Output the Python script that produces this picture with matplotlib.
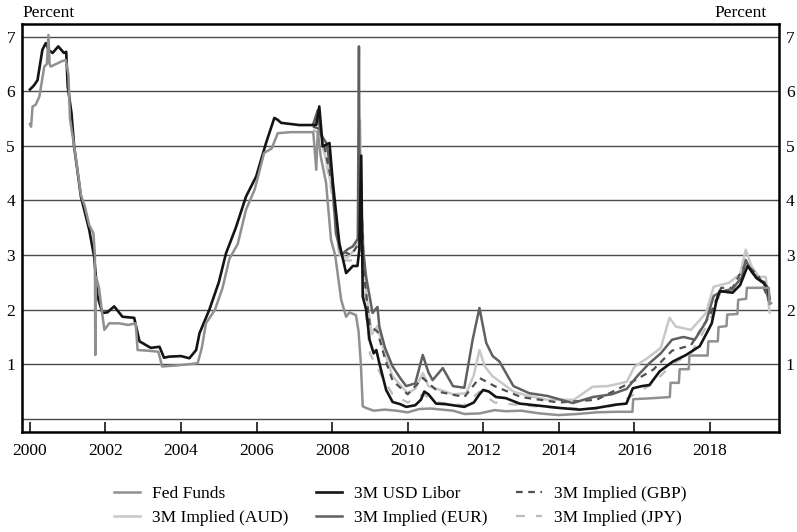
import numpy as np
import matplotlib
matplotlib.use("Agg")
import matplotlib.pyplot as plt

plt.rcParams['font.family'] = ['Liberation Serif', 'DejaVu Serif']

# values (decimal years, percent)
fed_t = [2000.00, 2000.03, 2000.07, 2000.15, 2000.25, 2000.38, 2000.45, 2000.49, 2000.52, 2000.55,
         2000.70, 2000.85, 2000.95, 2001.02, 2001.06, 2001.17, 2001.25, 2001.35, 2001.45, 2001.57,
         2001.68, 2001.72, 2001.73, 2001.75, 2001.83, 2001.90, 2001.97, 2002.10, 2002.36, 2002.60,
         2002.80, 2002.85, 2003.10, 2003.40, 2003.50, 2003.90, 2004.20, 2004.44, 2004.55, 2004.66,
         2004.90, 2005.10, 2005.28, 2005.50, 2005.72, 2005.95, 2006.20, 2006.40, 2006.56, 2006.90,
         2007.20, 2007.50, 2007.58, 2007.62, 2007.70, 2007.84, 2007.97, 2008.08, 2008.24, 2008.37,
         2008.46, 2008.63, 2008.70, 2008.76, 2008.81, 2008.90, 2009.10, 2009.40, 2009.70, 2010.00,
         2010.30, 2010.60, 2010.90, 2011.20, 2011.50, 2011.90, 2012.30, 2012.60, 2013.00, 2013.50,
         2014.00, 2014.50, 2015.00, 2015.50, 2015.95, 2015.97, 2016.50, 2016.94, 2016.96, 2017.18,
         2017.20, 2017.44, 2017.46, 2017.94, 2017.96, 2018.21, 2018.23, 2018.44, 2018.46, 2018.73,
         2018.75, 2018.96, 2018.98, 2019.30, 2019.56, 2019.58, 2019.62]
fed_v = [5.40, 5.35, 5.72, 5.75, 5.90, 6.45, 6.50, 7.03, 6.50, 6.45,
         6.50, 6.55, 6.57, 6.30, 5.50, 5.00, 4.60, 4.10, 3.90, 3.55,
         3.40, 3.00, 1.17, 2.60, 2.40, 2.00, 1.63, 1.75, 1.75, 1.72,
         1.75, 1.26, 1.25, 1.23, 0.96, 0.98, 1.00, 1.02, 1.30, 1.75,
         2.00, 2.40, 2.93, 3.20, 3.83, 4.20, 4.87, 4.95, 5.23, 5.25,
         5.25, 5.25, 4.56, 5.27, 4.80, 4.32, 3.28, 3.00, 2.18, 1.87,
         1.95, 1.90, 1.60, 1.02, 0.23, 0.20, 0.15, 0.17, 0.15, 0.12,
         0.18, 0.19, 0.17, 0.15, 0.09, 0.10, 0.16, 0.14, 0.15, 0.10,
         0.07, 0.09, 0.12, 0.13, 0.13, 0.36, 0.38, 0.40, 0.66, 0.66,
         0.91, 0.91, 1.16, 1.16, 1.42, 1.42, 1.68, 1.70, 1.91, 1.92,
         2.18, 2.20, 2.40, 2.40, 2.40, 2.10, 2.12]

libor_t = [2000.00, 2000.10, 2000.20, 2000.33, 2000.42, 2000.50, 2000.60, 2000.75, 2000.90, 2000.96,
           2001.00, 2001.10, 2001.17, 2001.35, 2001.57, 2001.70, 2001.79, 2001.92, 2002.05, 2002.23,
           2002.45, 2002.76, 2002.90, 2003.20, 2003.43, 2003.55, 2003.69, 2004.00, 2004.22, 2004.40,
           2004.49, 2004.75, 2005.00, 2005.19, 2005.45, 2005.72, 2005.99, 2006.25, 2006.47, 2006.55,
           2006.65, 2007.13, 2007.58, 2007.66, 2007.75, 2007.93, 2008.02, 2008.19, 2008.37, 2008.55,
           2008.67, 2008.72, 2008.77, 2008.81, 2008.90, 2008.99, 2009.10, 2009.17, 2009.25, 2009.43,
           2009.60, 2009.80, 2009.96, 2010.20, 2010.35, 2010.44, 2010.55, 2010.75, 2011.00, 2011.50,
           2011.75, 2011.90, 2012.00, 2012.15, 2012.34, 2012.60, 2012.96, 2013.50, 2014.02, 2014.55,
           2015.00, 2015.50, 2015.79, 2015.96, 2016.20, 2016.40, 2016.67, 2017.02, 2017.37, 2017.73,
           2017.90, 2018.05, 2018.17, 2018.26, 2018.60, 2018.80, 2019.00, 2019.23, 2019.40, 2019.53,
           2019.58]
libor_v = [6.03, 6.10, 6.20, 6.76, 6.88, 6.75, 6.70, 6.82, 6.70, 6.72,
           6.09, 5.60, 4.99, 4.07, 3.46, 2.97, 2.24, 1.94, 1.95, 2.06,
           1.87, 1.85, 1.42, 1.30, 1.32, 1.12, 1.14, 1.15, 1.11, 1.26,
           1.57, 2.00, 2.50, 3.03, 3.50, 4.07, 4.44, 5.05, 5.51, 5.48,
           5.42, 5.38, 5.38, 5.72, 4.99, 5.05, 4.32, 3.22, 2.67, 2.80,
           2.80, 3.10, 4.82, 2.24, 2.00, 1.45, 1.20, 1.26, 1.02, 0.53,
           0.31, 0.27, 0.22, 0.25, 0.35, 0.50, 0.45, 0.28, 0.27, 0.22,
           0.30, 0.45, 0.53, 0.50, 0.40, 0.38, 0.28, 0.24, 0.20, 0.17,
           0.20, 0.26, 0.28, 0.56, 0.60, 0.62, 0.87, 1.05, 1.17, 1.33,
           1.55, 1.75, 2.15, 2.34, 2.31, 2.45, 2.80, 2.58, 2.50, 2.40,
           2.20]

eur_t = [2007.50, 2007.62, 2007.70, 2007.85, 2008.00, 2008.10, 2008.25, 2008.40, 2008.55, 2008.68,
         2008.71, 2008.73, 2008.76, 2008.80, 2008.90, 2009.07, 2009.20, 2009.25, 2009.40, 2009.60,
         2009.80, 2009.96, 2010.20, 2010.40, 2010.55, 2010.66, 2010.93, 2011.20, 2011.50, 2011.72,
         2011.90, 2012.08, 2012.25, 2012.43, 2012.80, 2013.22, 2013.70, 2014.37, 2014.90, 2015.40,
         2015.80, 2016.10, 2016.40, 2016.70, 2017.00, 2017.30, 2017.60, 2017.90, 2018.10, 2018.30,
         2018.60, 2018.85, 2018.95, 2019.10, 2019.30, 2019.45, 2019.55]
eur_v = [5.40, 5.65, 5.20, 5.05, 4.40, 3.40, 3.00, 3.10, 3.16, 3.30,
         6.82, 3.60, 4.40, 3.20, 2.60, 1.94, 2.05, 1.69, 1.30, 0.96,
         0.75, 0.60, 0.65, 1.17, 0.85, 0.71, 0.93, 0.60, 0.57, 1.45,
         2.03, 1.39, 1.15, 1.05, 0.60, 0.47, 0.42, 0.29, 0.40, 0.45,
         0.55, 0.80, 1.02, 1.20, 1.45, 1.50, 1.45, 1.78, 2.25, 2.33,
         2.38, 2.60, 2.91, 2.70, 2.55, 2.50, 2.18]

aud_t = [2007.50, 2007.62, 2007.70, 2008.00, 2008.20, 2008.40, 2008.60, 2008.70, 2008.74, 2008.78,
         2008.90, 2009.05, 2009.20, 2009.35, 2009.60, 2010.00, 2010.20, 2010.40, 2010.55, 2011.00,
         2011.20, 2011.55, 2011.75, 2011.90, 2012.05, 2012.25, 2012.80, 2013.20, 2013.70, 2014.40,
         2014.90, 2015.30, 2015.80, 2016.00, 2016.40, 2016.70, 2016.93, 2017.10, 2017.50, 2017.90,
         2018.10, 2018.50, 2018.80, 2018.95, 2019.10, 2019.30, 2019.48, 2019.58]
aud_v = [5.35, 5.55, 5.20, 4.20, 3.00, 2.95, 3.10, 3.30, 5.47, 3.80,
         2.30, 1.55, 1.70, 1.30, 0.78, 0.47, 0.55, 0.84, 0.60, 0.50,
         0.45, 0.47, 0.80, 1.26, 0.95, 0.78, 0.50, 0.42, 0.35, 0.35,
         0.59, 0.60, 0.68, 0.95, 1.14, 1.30, 1.85, 1.69, 1.63, 1.94,
         2.42, 2.49, 2.65, 3.10, 2.80, 2.60, 2.60, 1.95]

gbp_t = [2007.50, 2007.70, 2008.00, 2008.20, 2008.50, 2008.70, 2008.77, 2008.85, 2009.00, 2009.20,
         2009.40, 2009.60, 2010.00, 2010.40, 2010.80, 2011.50, 2011.90, 2012.30, 2013.00, 2014.00,
         2015.00, 2016.00, 2016.50, 2017.00, 2017.50, 2018.00, 2018.30, 2018.60, 2018.95, 2019.30,
         2019.55]
gbp_v = [5.35, 5.30, 4.30, 3.10, 3.00, 3.20, 4.00, 2.60, 1.70, 1.60,
         1.10, 0.70, 0.45, 0.75, 0.50, 0.40, 0.75, 0.60, 0.40, 0.30,
         0.35, 0.70, 0.90, 1.25, 1.35, 1.90, 2.40, 2.40, 2.85, 2.60,
         2.20]

jpy_t = [2007.50, 2007.70, 2008.00, 2008.20, 2008.50, 2008.72, 2008.80, 2008.90, 2009.00, 2009.30,
         2009.60, 2010.00, 2010.40, 2010.80, 2011.50, 2011.90, 2012.30, 2013.00, 2014.00, 2015.00,
         2015.50, 2016.00, 2016.50, 2017.00, 2017.50, 2018.00, 2018.30, 2018.60, 2018.95, 2019.30,
         2019.55]
jpy_v = [5.30, 5.20, 4.10, 2.90, 2.90, 3.00, 3.60, 1.90, 1.20, 0.80,
         0.45, 0.30, 0.45, 0.30, 0.25, 0.50, 0.30, 0.25, 0.20, 0.18,
         0.25, 0.45, 0.65, 1.00, 1.20, 1.80, 2.35, 2.35, 2.85, 2.60,
         2.20]

yticks = [1, 2, 3, 4, 5, 6, 7]
xticks = [2000, 2002, 2004, 2006, 2008, 2010, 2012, 2014, 2016, 2018]

fig = plt.figure(figsize=(7.97, 5.32), dpi=100)
ax = fig.add_axes([22 / 797, 100 / 532, 757 / 797, 408 / 532])

for v in range(0, 8):
    ax.axhline(v, color='#4a4a4a', lw=1.0, zorder=1)

l_jpy, = ax.plot(jpy_t, jpy_v, color='#bcbcbc', lw=1.6, ls=(0, (4, 5)), zorder=2, label='3M Implied (JPY)')
l_aud, = ax.plot(aud_t, aud_v, color='#c8c8c8', lw=1.8, zorder=3, label='3M Implied (AUD)')
l_gbp, = ax.plot(gbp_t, gbp_v, color='#505050', lw=1.6, ls=(0, (3, 2.5)), zorder=4, label='3M Implied (GBP)')
l_eur, = ax.plot(eur_t, eur_v, color='#606060', lw=1.8, zorder=5, label='3M Implied (EUR)')
l_lib, = ax.plot(libor_t, libor_v, color='#141414', lw=1.9, zorder=6, label='3M USD Libor')
l_fed, = ax.plot(fed_t, fed_v, color='#909090', lw=1.8, zorder=7, label='Fed Funds')

ax.set_xlim(1999.79, 2019.83)
ax.set_ylim(-0.24, 7.23)
ax.set_yticks(yticks)
ax.set_xticks(xticks)
ax.tick_params(axis='y', length=0, pad=5, labelsize=12.5, labelleft=True, labelright=True)
ax.tick_params(axis='x', direction='in', length=7.5, width=1.1, pad=8, labelsize=12.5)
for s in ax.spines.values():
    s.set_linewidth(1.8)
    s.set_color('black')

fig.text(22 / 797, 1 - 13 / 532, 'Percent', fontsize=12.5, ha='left', va='center')
fig.text(767 / 797, 1 - 13 / 532, 'Percent', fontsize=12.5, ha='right', va='center')

handles = [l_fed, l_aud, l_lib, l_eur, l_gbp, l_jpy]
fig.legend(handles=handles, labels=[h.get_label() for h in handles], ncol=3,
           loc='center', bbox_to_anchor=(400 / 797, 1 - 506 / 532), frameon=False,
           fontsize=12.5, handlelength=1.5, handletextpad=0.7, columnspacing=1.6,
           labelspacing=0.5)

fig.savefig('out.png', dpi=100)
